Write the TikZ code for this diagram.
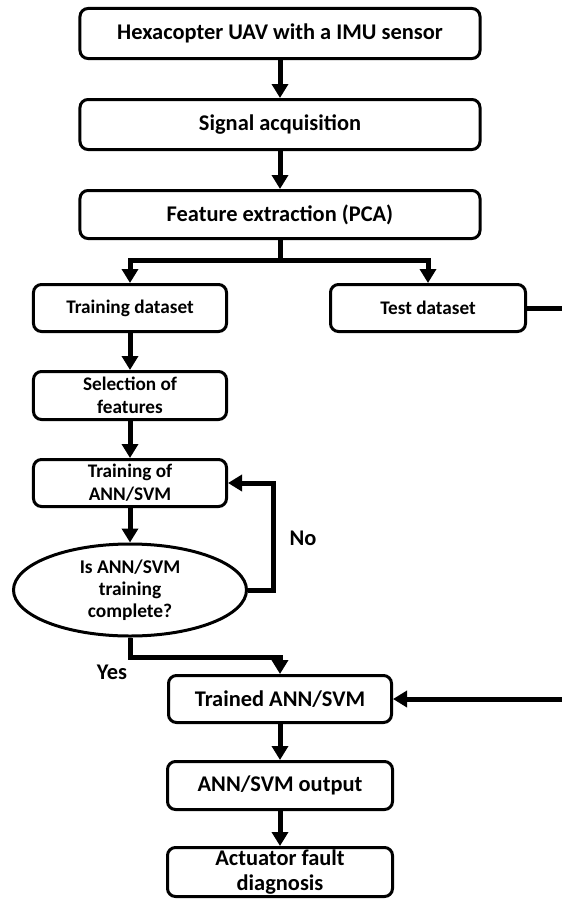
\documentclass[tikz,border=0pt]{standalone}
\usepackage{fontspec}
\setmainfont{Carlito}
\usetikzlibrary{arrows.meta,shapes.geometric}

\tikzset{
  box/.style={draw, line width=3bp, rounded corners=8bp, fill=white,
    inner sep=0pt, align=center, font=\bfseries\fontsize{22.5}{25}\selectfont},
  smallbox/.style={box, font=\bfseries\fontsize{19.3}{23}\selectfont},
  decision/.style={draw, ellipse, line width=3bp, fill=white, inner sep=0pt,
    align=center, font=\bfseries\fontsize{19.5}{22}\selectfont},
  conn/.style={line width=5bp, line join=miter},
  arr/.style={conn, -{Triangle[width=16bp,length=14bp]}},
  lbl/.style={font=\bfseries\fontsize{22.5}{25}\selectfont, inner sep=0pt}
}

\begin{document}
\begin{tikzpicture}[x=1bp,y=-1bp]
  \useasboundingbox (0,0) rectangle (562,899);

  % main chain
  \node[box, minimum width=400bp, minimum height=50bp] (uav) at (280,33.5)
    {Hexacopter UAV with a IMU sensor};
  \node[box, minimum width=400bp, minimum height=50bp] (acq) at (280,124.5)
    {Signal acquisition};
  \node[box, minimum width=400bp, minimum height=48bp] (pca) at (280,214.5)
    {Feature extraction (PCA)};

  % data split
  \coordinate (split) at (280,260);
  \node[smallbox, minimum width=193bp, minimum height=47bp] (trainset) at (130,308)
    {Training dataset};
  \node[smallbox, minimum width=195bp, minimum height=47bp] (testset) at (428,308)
    {Test dataset};

  % training branch
  \node[smallbox, minimum width=193bp, minimum height=48bp] (select) at (130,395.5)
    {Selection of\\features};
  \node[smallbox, minimum width=193bp, minimum height=47bp] (trainann) at (130,483)
    {Training of\\ANN/SVM};
  \node[decision, minimum width=233bp, minimum height=92bp] (check) at (130,590)
    {Is ANN/SVM\\training\\complete?};

  % result chain
  \node[box, minimum width=223bp, minimum height=47bp] (trained) at (280,699)
    {Trained ANN/SVM};
  \node[box, minimum width=225bp, minimum height=48bp] (output) at (280,785.5)
    {ANN/SVM output};
  \node[box, minimum width=225bp, minimum height=49bp] (diag) at (280,872)
    {Actuator fault\\diagnosis};

  % connectors
  \draw[arr] (uav) -- (acq);
  \draw[arr] (acq) -- (pca);
  \draw[conn] (pca) -- (split);
  \draw[arr] (split) -| (trainset);
  \draw[arr] (split) -| (testset);
  \draw[arr] (trainset) -- (select);
  \draw[arr] (select) -- (trainann);
  \draw[arr] (trainann) -- (check);
  \draw[arr] (check.east) -- ++(25,0) |- (trainann.east);
  \draw[arr] (check.south) -- ++(0,20) -| (trained.north);
  \draw[arr] (testset.east) -- ++(60,0) |- (trained.east);
  \draw[arr] (trained) -- (output);
  \draw[arr] (output) -- (diag);

  % branch labels
  \node[lbl] (no) at (303,538) {No};
  \node[lbl] (yes) at (112,672) {Yes};
\end{tikzpicture}
\end{document}
